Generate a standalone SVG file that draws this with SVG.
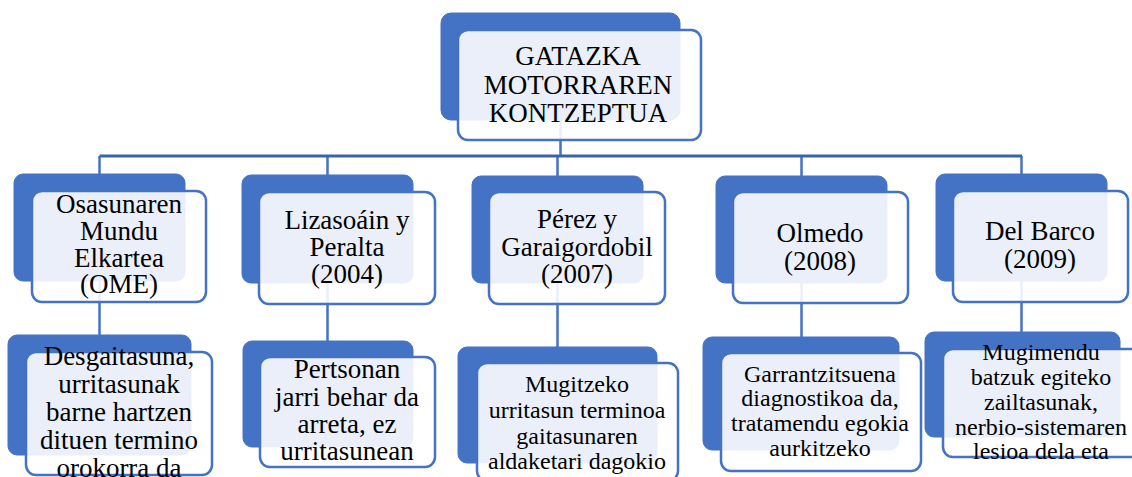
<svg xmlns="http://www.w3.org/2000/svg" width="1132" height="477" viewBox="0 0 1132 477">
<style>
.back{fill:#4472C4;stroke:#4472C4;stroke-width:1}
.front{fill:#FFFFFF;fill-opacity:0.89;stroke:#4472C4;stroke-width:2.5}
.conn{fill:none;stroke:#4472C4;stroke-width:2.5}
.bar{fill:none;stroke:#3C62AC;stroke-width:3}
.lbl{fill:#000;text-anchor:middle}
.t27{font-size:27px}
.t24{font-size:24px}
</style>
<rect width="1132" height="477" fill="#FFFFFF"/>
<g id="connectors">
<path class="conn" d="M560.5 120V156M99.5 156V174M327.5 156V175M557.5 156V176M801.5 156V176M1021.5 156V174"/>
<path class="bar" d="M99.5 156H1022"/>
<path class="conn" d="M99.5 281V335M327.5 283V341M557.5 283V347M801.5 283V337M1021.5 281V332"/>
</g>
<g font-family="'Liberation Serif', Tinos, 'DejaVu Serif', 'Noto Serif', 'Times New Roman', serif">
<g id="n0">
<rect class="back" x="441" y="13" width="239" height="107" rx="10"/>
<rect class="front" x="458" y="30" width="243" height="110" rx="10"/>
<text class="lbl t27"><tspan x="578" y="65">GATAZKA</tspan><tspan x="578" y="93.5">MOTORRAREN</tspan><tspan x="578" y="122">KONTZEPTUA</tspan></text>
</g>
<g id="n1">
<rect class="back" x="14" y="174" width="171" height="107" rx="9"/>
<rect class="front" x="32" y="191" width="174" height="111" rx="10"/>
<text class="lbl t27"><tspan x="119" y="213">Osasunaren</tspan><tspan x="119" y="240">Mundu</tspan><tspan x="119" y="267">Elkartea</tspan><tspan x="119" y="293">(OME)</tspan></text>
</g>
<g id="n2">
<rect class="back" x="242" y="175" width="171" height="108" rx="9"/>
<rect class="front" x="259" y="192" width="176" height="112" rx="10"/>
<text class="lbl t27"><tspan x="347" y="229">Lizasoáin y</tspan><tspan x="347" y="256">Peralta</tspan><tspan x="347" y="283">(2004)</tspan></text>
</g>
<g id="n3">
<rect class="back" x="472" y="176" width="171" height="107" rx="9"/>
<rect class="front" x="489" y="192" width="176" height="112" rx="10"/>
<text class="lbl t27"><tspan x="577" y="228">Pérez y</tspan><tspan x="577" y="256">Garaigordobil</tspan><tspan x="577" y="283">(2007)</tspan></text>
</g>
<g id="n4">
<rect class="back" x="716" y="176" width="171" height="107" rx="9"/>
<rect class="front" x="733" y="192" width="175" height="111" rx="10"/>
<text class="lbl t27"><tspan x="820" y="242">Olmedo</tspan><tspan x="820" y="270">(2008)</tspan></text>
</g>
<g id="n5">
<rect class="back" x="936" y="174" width="171" height="107" rx="9"/>
<rect class="front" x="953" y="191" width="175" height="111" rx="10"/>
<text class="lbl t27"><tspan x="1040" y="240">Del Barco</tspan><tspan x="1040" y="268">(2009)</tspan></text>
</g>
<g id="n6">
<rect class="back" x="8" y="335" width="183" height="120" rx="9"/>
<rect class="front" x="26" y="352" width="186" height="123" rx="10"/>
<text class="lbl t27"><tspan x="119" y="365">Desgaitasuna,</tspan><tspan x="119" y="393">urritasunak</tspan><tspan x="119" y="421">barne hartzen</tspan><tspan x="119" y="449">dituen termino</tspan><tspan x="119" y="477">orokorra da</tspan></text>
</g>
<g id="n7">
<rect class="back" x="243" y="341" width="170" height="106" rx="9"/>
<rect class="front" x="260" y="357" width="175" height="110" rx="10"/>
<text class="lbl t27"><tspan x="347" y="378">Pertsonan</tspan><tspan x="347" y="406">jarri behar da</tspan><tspan x="347" y="433">arreta, ez</tspan><tspan x="347" y="460">urritasunean</tspan></text>
</g>
<g id="n8">
<rect class="back" x="458" y="347" width="199" height="116" rx="9"/>
<rect class="front" x="477" y="363" width="201" height="118" rx="10"/>
<text class="lbl t24"><tspan x="577" y="392">Mugitzeko</tspan><tspan x="577" y="418">urritasun terminoa</tspan><tspan x="577" y="444">gaitasunaren</tspan><tspan x="577" y="469">aldaketari dagokio</tspan></text>
</g>
<g id="n9">
<rect class="back" x="703" y="337" width="196" height="113" rx="9"/>
<rect class="front" x="721" y="353" width="200" height="118" rx="10"/>
<text class="lbl t24"><tspan x="820" y="382">Garrantzitsuena</tspan><tspan x="820" y="406">diagnostikoa da,</tspan><tspan x="820" y="431">tratamendu egokia</tspan><tspan x="820" y="456">aurkitzeko</tspan></text>
</g>
<g id="n10">
<rect class="back" x="925" y="332" width="195" height="105" rx="9"/>
<rect class="front" x="943" y="349" width="200" height="108" rx="10"/>
<text class="lbl t24"><tspan x="1041" y="360">Mugimendu</tspan><tspan x="1041" y="385">batzuk egiteko</tspan><tspan x="1041" y="410">zailtasunak,</tspan><tspan x="1041" y="435">nerbio-sistemaren</tspan><tspan x="1041" y="459">lesioa dela eta</tspan></text>
</g>
</g>
</svg>
